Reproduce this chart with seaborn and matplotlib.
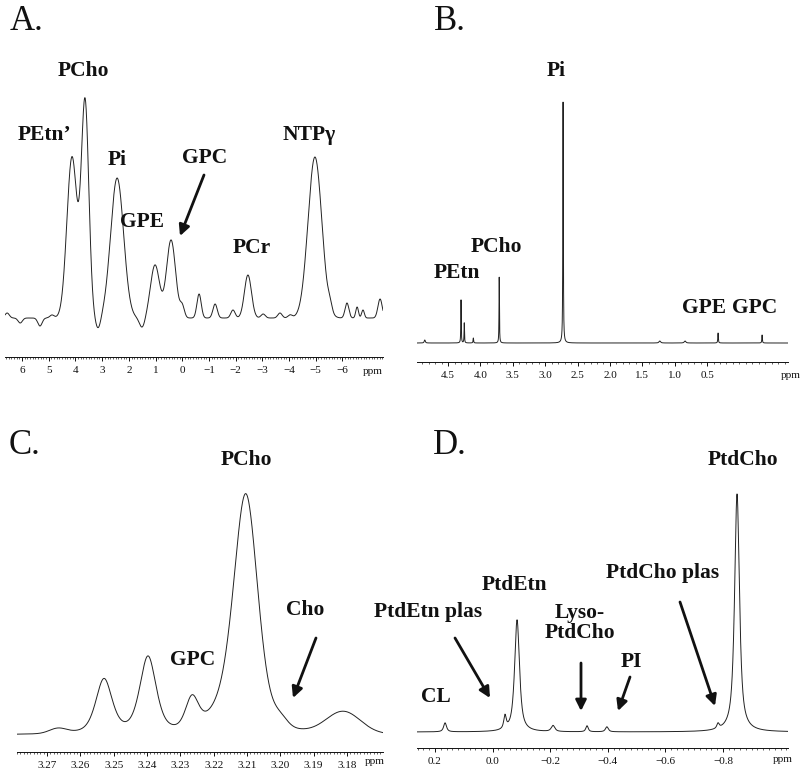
import numpy as np
import matplotlib
matplotlib.use('Agg')
import matplotlib.pyplot as plt
import seaborn as sns

# Peak tables: position (ppm), height (a.u.), line width (ppm), Lorentz fraction
# A. in vivo 31P
a_pos = [4.13, 3.64, 2.44, 1.02, 0.42, -2.46, -4.97,
         6.56, 6.07, 5.33, 4.88, 3.15, 1.50, 0.00, -0.63, -1.23, -1.90,
         -3.03, -3.66, -4.04, -5.54, -6.17, -6.55, -6.77, -7.41]
a_height = [161, 214, 140, 53, 78, 43, 161,
            5, -5, -8, 3, -12, -10, 11, 24, 14, 8,
            4, 5, 3, 7, 15, 11, 8, 19]
a_width = [0.45, 0.33, 0.57, 0.40, 0.40, 0.31, 0.61,
           0.19, 0.19, 0.19, 0.19, 0.24, 0.24, 0.19, 0.19, 0.19, 0.19,
           0.19, 0.19, 0.19, 0.17, 0.17, 0.12, 0.12, 0.19]
a_shape = [0.0] * len(a_pos)
a_ticks = [6, 5, 4, 3, 2, 1, 0, -1, -2, -3, -4, -5, -6]
a_range = (6.64, -7.52)

# B. extract 31P
b_pos = [4.86, 4.30, 4.25, 4.11, 3.71, 2.724, 1.23, 0.84, 0.33, -0.35]
b_height = [3, 43, 20, 5, 66, 241, 2, 2, 10, 8]
b_width = [0.02, 0.008, 0.008, 0.01, 0.008, 0.009, 0.03, 0.03, 0.01, 0.01]
b_shape = [0.8] * len(b_pos)
b_ticks = [4.5, 4.0, 3.5, 3.0, 2.5, 2.0, 1.5, 1.0, 0.5]
b_range = (4.98, -0.75)

# C. 1H choline region
c_pos = [3.2667, 3.2529, 3.2397, 3.2265, 3.2150, 3.2103, 3.2000, 3.1811]
c_height = [5, 54, 76, 30, 20, 226, 8, 22]
c_width = [0.006, 0.0058, 0.0058, 0.0045, 0.014, 0.0085, 0.005, 0.012]
c_shape = [0.0, 0.5, 0.5, 0.3, 0.0, 0.35, 0.0, 0.0]
c_ticks = [3.27, 3.26, 3.25, 3.24, 3.23, 3.22, 3.21, 3.20, 3.19, 3.18]
c_range = (3.279, 3.1692)

# D. phospholipid 31P
d_pos = [0.165, -0.043, -0.085, -0.21, -0.328, -0.397, -0.783, -0.849]
d_height = [9, 13, 112, 6, 6, 5, 5, 238]
d_width = [0.012, 0.01, 0.02, 0.015, 0.01, 0.012, 0.01, 0.02]
d_shape = [0.8] * len(d_pos)
d_ticks = [0.2, 0.0, -0.2, -0.4, -0.6, -0.8]
d_range = (0.2625, -1.026)


def spectrum(ppm, pos, height, width, shape):
    y = np.zeros_like(ppm)
    for p, h, w, e in zip(pos, height, width, shape):
        d = (ppm - p) / w
        y += h * (e / (1 + 4 * d ** 2) + (1 - e) * np.exp(-4 * np.log(2) * d ** 2))
    return y


sns.set_theme(style='white')
plt.rcParams['font.family'] = ['Liberation Serif', 'DejaVu Serif']

W, H = 800, 775
fig = plt.figure(figsize=(8, 7.75), dpi=100)


def panel(box, rng, ylim, pos, height, width, shape, ticks, fmt, minor, npts):
    x0, x1, ytop, ybot = box
    ax = fig.add_axes([x0 / W, 1 - ybot / H, (x1 - x0) / W, (ybot - ytop) / H])
    ppm = np.linspace(rng[0], rng[1], npts)
    sig = spectrum(ppm, pos, height, width, shape)
    sns.lineplot(x=ppm, y=sig, ax=ax, color='#222222', lw=0.7,
                 estimator=None, sort=False)
    ax.set_xlim(rng)
    ax.set_ylim(ylim)
    ax.set_xticks(ticks)
    ax.set_xticklabels([fmt.format(t).replace('-', '\u2212') for t in ticks])
    ax.xaxis.set_minor_locator(matplotlib.ticker.MultipleLocator(minor))
    ax.tick_params(axis='x', which='major', bottom=True, direction='out',
                   length=3, width=0.7, labelsize=8, pad=3.5, colors='#111111')
    ax.tick_params(axis='x', which='minor', bottom=True, direction='out',
                   length=1.5, width=0.5)
    ax.set_yticks([])
    ax.set_xlabel('')
    ax.set_ylabel('')
    for s in ['left', 'right', 'top']:
        ax.spines[s].set_visible(False)
    ax.spines['bottom'].set_linewidth(0.7)
    ax.spines['bottom'].set_color('#111111')
    ax.patch.set_alpha(0)
    return ax


panel((5, 383, 90, 357), a_range, (-39, 228), a_pos, a_height, a_width, a_shape,
      a_ticks, '{:d}', 0.1, 3000)
panel((417, 788, 95, 362), b_range, (-19, 248), b_pos, b_height, b_width, b_shape,
      b_ticks, '{:.1f}', 0.1, 12000)
panel((17, 383, 470, 752), c_range, (-17, 265), c_pos, c_height, c_width, c_shape,
      c_ticks, '{:.2f}', 0.001, 4000)
panel((417, 788, 475, 748), d_range, (-16, 257), d_pos, d_height, d_width, d_shape,
      d_ticks, '{:.1f}', 0.02, 8000)


def label(x, y, s, size=15.5, weight='bold', **kw):
    fig.text(x / W, 1 - y / H, s, ha='center', va='center', fontsize=size,
             fontweight=weight, color='#111111', **kw)


def arrow(x0, y0, x1, y1):
    fig.add_artist(matplotlib.patches.FancyArrowPatch(
        (x0 / W, 1 - y0 / H), (x1 / W, 1 - y1 / H), transform=fig.transFigure,
        arrowstyle='-|>', mutation_scale=16, lw=2, color='#111111',
        shrinkA=0, shrinkB=0))


# panel letters
label(26, 21, 'A.', size=25, weight='normal')
label(450, 21, 'B.', size=25, weight='normal')
label(24, 446, 'C.', size=25, weight='normal')
label(450, 445, 'D.', size=25, weight='normal')

# ppm units
label(373, 372, 'ppm', size=8, weight='normal')
label(791, 375, 'ppm', size=8, weight='normal')
label(375, 762, 'ppm', size=8, weight='normal')
label(783, 760, 'ppm', size=8, weight='normal')

# A
label(83, 71, 'PCho')
label(45, 135, 'PEtn\u2019')
label(117, 160, 'Pi')
label(205, 158, 'GPC')
label(142, 222, 'GPE')
label(252, 248, 'PCr')
label(309, 135, 'NTP\u03b3')
arrow(204, 175, 180, 236)

# B
label(556, 71, 'Pi')
label(496, 247, 'PCho')
label(457, 273, 'PEtn')
label(704, 308, 'GPE')
label(755, 308, 'GPC')

# C
label(246, 460, 'PCho')
label(193, 660, 'GPC')
label(305, 610, 'Cho')
arrow(316, 638, 293, 698)

# D
label(743, 460, 'PtdCho')
label(663, 573, 'PtdCho plas')
label(514, 585, 'PtdEtn')
label(428, 612, 'PtdEtn plas')
label(580, 623, 'Lyso-\nPtdCho', linespacing=1.05)
label(631, 662, 'PI')
label(436, 697, 'CL')
arrow(455, 638, 490, 698)
arrow(581, 663, 581, 711)
arrow(630, 677, 618, 711)
arrow(680, 602, 715, 706)

fig.savefig('out.png', dpi=100, facecolor='white')
